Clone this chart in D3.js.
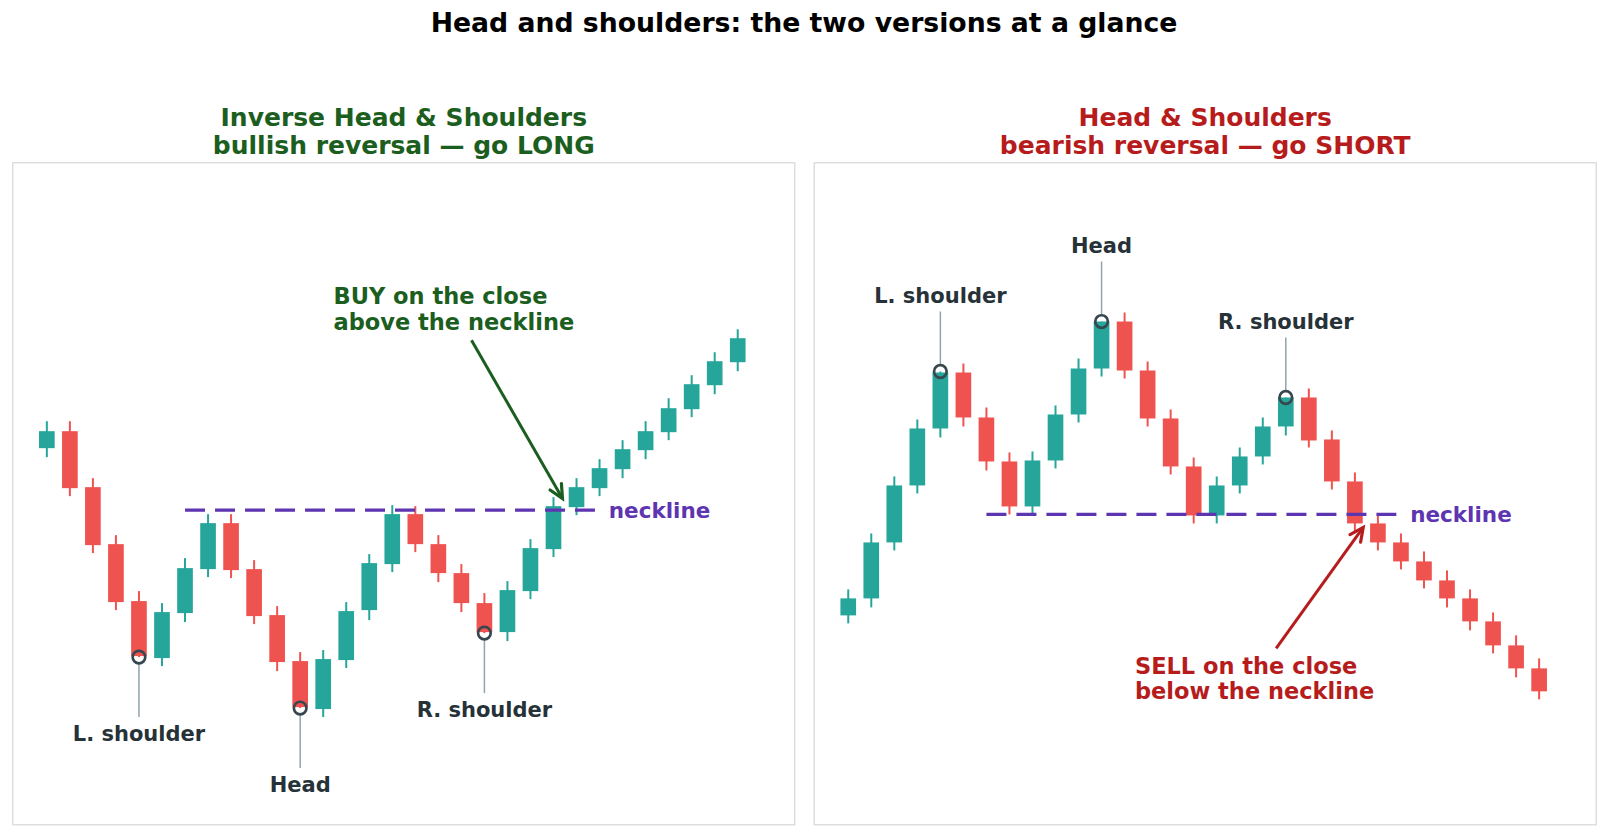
<!DOCTYPE html>
<html>
<head>
<meta charset="utf-8">
<script src="https://cdn.jsdelivr.net/npm/d3@7"></script>
<style>
  body { margin: 0; background: #fff; }
  text { font-family: "DejaVu Sans", sans-serif; font-weight: bold; }
</style>
</head>
<body>
<script>
var width = 1608,
    height = 837;

// inverse head & shoulders (left panel)
var invOpen  = [106.2,107.9,102.3,96.6,90.9,85.2,89.7,94.1,98.7,94.1,89.5,84.9,80.1,85.0,90.0,94.6,99.6,96.6,93.7,90.7,87.8,91.9,96.1,100.3,102.2,104.1,106.0,107.8,110.1,112.5,114.8];
var invClose = [107.9,102.2,96.5,90.8,85.4,89.8,94.2,98.7,94.0,89.4,84.8,80.3,85.1,89.9,94.7,99.6,96.6,93.7,90.7,87.8,92.0,96.2,100.4,102.3,104.2,106.1,107.9,110.2,112.6,114.9,117.2];
var invHigh  = [108.9,108.9,103.2,97.5,91.9,90.7,95.2,99.6,99.6,95.0,90.4,85.8,86.0,90.8,95.6,100.5,100.4,97.5,94.6,91.7,92.9,97.1,101.3,103.2,105.1,107.0,108.9,111.2,113.5,115.8,118.1];
var invLow   = [105.3,101.4,95.7,90.0,85.3,84.4,88.8,93.3,93.2,88.6,83.9,80.2,79.3,84.2,89.0,93.8,95.8,92.8,89.8,87.7,86.9,91.1,95.3,99.5,101.4,103.2,105.1,107.0,109.3,111.6,113.9];

// head & shoulders top (right panel)
var topOpen  = [89.9,91.6,97.2,102.9,108.6,114.2,109.7,105.3,100.8,105.4,110.0,114.6,119.3,114.4,109.6,104.8,99.9,102.9,105.8,108.8,111.7,107.5,103.3,99.1,97.2,95.3,93.4,91.6,89.3,86.9,84.6];
var topClose = [91.6,97.2,102.9,108.6,114.2,109.7,105.3,100.8,105.4,110.0,114.6,119.3,114.4,109.6,104.8,99.9,102.9,105.8,108.8,111.7,107.4,103.3,99.1,97.2,95.3,93.4,91.6,89.3,86.9,84.6,82.3];
var topHigh  = [92.5,98.1,103.8,109.5,114.3,115.1,110.7,106.2,106.3,110.9,115.6,119.3,120.2,115.3,110.5,105.7,103.8,106.7,109.7,111.7,112.6,108.4,104.2,100.0,98.1,96.3,94.4,92.5,90.2,87.9,85.6];
var topLow   = [89.1,90.7,96.4,102.1,107.7,108.8,104.4,100.0,100.1,104.6,109.2,113.8,113.6,108.8,104.0,99.1,99.1,102.1,105.0,107.9,106.7,102.5,98.3,96.4,94.5,92.6,90.7,88.4,86.1,83.7,81.5];

var pointNames = ["L. shoulder", "Head", "R. shoulder"];
var invPoints  = [[4, 85.3], [11, 80.2], [19, 87.7]];
var topPoints  = [[4, 114.3], [11, 119.3], [19, 111.7]];

var necklineLevel = 100,
    necklineSpan = [6, 23.8],
    necklineLabelAt = 24.4;

var invTitle = ["Inverse Head & Shoulders", "bullish reversal \u2014 go LONG"];
var topTitle = ["Head & Shoulders", "bearish reversal \u2014 go SHORT"];
var invNote = ["BUY on the close", "above the neckline"];
var topNote = ["SELL on the close", "below the neckline"];
// [text x, text line-1 y, arrow start x, y, arrow tip x, y] in data units
var invNoteAt = [12.45, 121.4, 18.44, 117.0, 22.39, 101.17];
var topNoteAt = [12.45, 84.9, 18.58, 86.6, 22.36, 98.7];

var xDomain = [-1.5, 32.5];
var invYDomain = [68.57, 134.8];
var topYDomain = [69.0, 135.23];

var up = "#26a69a", down = "#ef5350";

var svg = d3.select("body").append("svg")
    .attr("width", width)
    .attr("height", height);

svg.append("text")
    .attr("x", 804).attr("y", 32)
    .attr("text-anchor", "middle")
    .attr("font-size", 26.7)
    .attr("fill", "#000")
    .text("Head and shoulders: the two versions at a glance");

function drawPanel(p) {
  var top = 162.3, bottom = 824.3;
  var x = d3.scaleLinear().domain(xDomain).range([p.left, p.left + 783]);
  var y = d3.scaleLinear().domain(p.yDomain).range([bottom, top]);
  var g = svg.append("g");

  g.append("rect")
      .attr("x", p.left + 0.5).attr("y", top + 0.5)
      .attr("width", 782).attr("height", bottom - top)
      .attr("fill", "none").attr("stroke", "#d6d6d6").attr("stroke-width", 1.2);

  // subtitle, two lines
  g.selectAll(".sub").data(p.title).enter().append("text")
      .attr("x", p.left + 391.5)
      .attr("y", function(d, i) { return 126 + i * 28; })
      .attr("text-anchor", "middle")
      .attr("font-size", 25)
      .attr("fill", p.color)
      .text(function(d) { return d; });

  var idx = d3.range(p.open.length);
  var bw = x(0.34) - x(0);

  g.selectAll(".wick").data(idx).enter().append("line")
      .attr("x1", function(i) { return x(i); })
      .attr("x2", function(i) { return x(i); })
      .attr("y1", function(i) { return y(p.high[i]); })
      .attr("y2", function(i) { return y(p.low[i]); })
      .attr("stroke", function(i) { return p.close[i] >= p.open[i] ? up : down; })
      .attr("stroke-width", 2);

  g.selectAll(".body").data(idx).enter().append("rect")
      .attr("x", function(i) { return x(i) - bw; })
      .attr("width", bw * 2)
      .attr("y", function(i) { return y(Math.max(p.open[i], p.close[i])); })
      .attr("height", function(i) { return Math.max(1, Math.abs(y(p.open[i]) - y(p.close[i]))); })
      .attr("fill", function(i) { return p.close[i] >= p.open[i] ? up : down; });

  // neckline
  g.append("line")
      .attr("x1", x(necklineSpan[0])).attr("x2", x(necklineSpan[1]))
      .attr("y1", y(necklineLevel)).attr("y2", y(necklineLevel))
      .attr("stroke", "#5e35b1").attr("stroke-width", 3.3)
      .attr("stroke-dasharray", "20,10");
  g.append("text")
      .attr("x", x(necklineLabelAt)).attr("y", y(necklineLevel) + 7.8)
      .attr("font-size", 21.5)
      .attr("fill", "#5e35b1")
      .text("neckline");

  // pattern points
  p.points.forEach(function(pt, k) {
    var cx = x(pt[0]), cy = y(pt[1]);
    var ty = cy + p.dir * 76;
    g.append("line")
        .attr("x1", cx).attr("x2", cx)
        .attr("y1", cy + p.dir * 7).attr("y2", ty - p.dir * 16)
        .attr("stroke", "#90a4ae").attr("stroke-width", 1.5);
    g.append("circle")
        .attr("cx", cx).attr("cy", cy).attr("r", 6.3)
        .attr("fill", "none").attr("stroke", "#37474f").attr("stroke-width", 2.7);
    g.append("text")
        .attr("x", cx).attr("y", ty + 7.6)
        .attr("text-anchor", "middle")
        .attr("font-size", 21)
        .attr("fill", "#263238")
        .text(pointNames[k]);
  });

  // trade note + arrow
  var n = p.noteAt;
  g.selectAll(".note").data(p.note).enter().append("text")
      .attr("x", x(n[0]))
      .attr("y", function(d, i) { return y(n[1]) + 8.2 + i * 25.5; })
      .attr("font-size", 22.5)
      .attr("fill", p.color)
      .text(function(d) { return d; });

  var x0 = x(n[2]), y0 = y(n[3]), x1 = x(n[4]), y1 = y(n[5]);
  var a = Math.atan2(y1 - y0, x1 - x0), hl = 15, ha = 0.45;
  g.append("line")
      .attr("x1", x0).attr("y1", y0).attr("x2", x1).attr("y2", y1)
      .attr("stroke", p.color).attr("stroke-width", 3);
  g.append("path")
      .attr("d", "M" + (x1 - hl * Math.cos(a - ha)) + "," + (y1 - hl * Math.sin(a - ha)) +
                 "L" + x1 + "," + y1 +
                 "L" + (x1 - hl * Math.cos(a + ha)) + "," + (y1 - hl * Math.sin(a + ha)))
      .attr("fill", "none").attr("stroke", p.color).attr("stroke-width", 3.2)
      .attr("stroke-linecap", "round").attr("stroke-linejoin", "miter");
}

drawPanel({
  left: 12.3, yDomain: invYDomain, color: "#1b5e20", title: invTitle,
  open: invOpen, close: invClose, high: invHigh, low: invLow,
  points: invPoints, dir: 1, note: invNote, noteAt: invNoteAt
});

drawPanel({
  left: 813.7, yDomain: topYDomain, color: "#b71c1c", title: topTitle,
  open: topOpen, close: topClose, high: topHigh, low: topLow,
  points: topPoints, dir: -1, note: topNote, noteAt: topNoteAt
});
</script>
</body>
</html>
